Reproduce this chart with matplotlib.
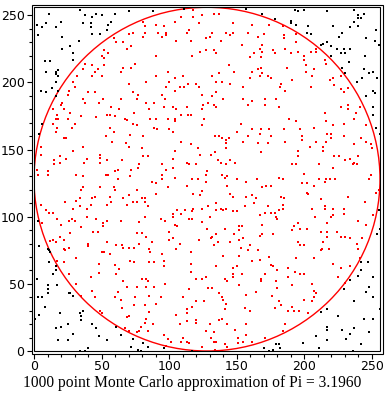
import matplotlib
matplotlib.use("Agg")
import matplotlib.pyplot as plt
from matplotlib.patches import Circle, Rectangle
from matplotlib.ticker import MultipleLocator

n_points = 1000
pi_estimate = "3.1960"
circle_center = (128, 128)
circle_radius = 128
axis_max = 256
x_ticks = [0, 50, 100, 150, 200, 250]
y_ticks = [0, 50, 100, 150, 200, 250]
caption = f"{n_points} point Monte Carlo approximation of Pi = {pi_estimate}"

# points that fell inside the circle (red)
inside_points = [
    (81,245),(82,242),(82,237),(81,234),(70,236),(73,237),(59,233),(61,230),(66,230),(69,225),
    (72,227),(52,224),(55,222),(50,220),(52,218),(38,214),(43,213),(52,213),(75,214),(66,211),
    (72,211),(36,210),(47,210),(45,208),(64,208),(32,205),(43,205),(50,205),(29,200),(30,197),
    (70,199),(83,200),(26,194),(40,193),(45,193),(25,191),(73,193),(77,191),(36,188),(38,185),
    (76,188),(64,188),(21,185),(51,188),(48,185),(83,185),(20,183),(57,182),(22,180),(27,177),
    (63,180),(85,180),(14,180),(17,176),(35,175),(54,176),(56,176),(74,177),(60,175),
    (118,254),(133,251),(137,251),(109,249),(118,249),(124,250),(104,245),(122,244),(147,244),(90,243),
    (96,242),(161,243),(174,243),(92,237),(113,237),(115,239),(98,237),(95,234),(98,235),(132,237),
    (142,237),(147,237),(158,237),(170,236),(166,234),(127,233),(130,234),(145,235),(105,231),(116,231),
    (138,231),(154,228),(169,228),(167,225),(169,223),(163,222),(127,224),(133,224),(135,222),(123,223),
    (117,220),(90,220),(160,219),(168,219),(144,213),(148,208),(161,208),(166,210),(168,211),(169,207),
    (173,205),(167,205),(137,207),(99,208),(110,205),(90,205),(132,205),(104,203),(100,200),(160,203),
    (135,200),(139,200),(145,199),(114,199),(120,199),(122,197),(111,197),(108,197),(98,197),(104,194),
    (155,197),(135,193),(124,191),(95,191),(132,190),(140,188),(155,188),(171,188),(97,188),(161,186),
    (129,185),(89,185),(125,183),(133,183),(135,182),(158,183),(171,183),(96,182),(103,182),(113,182),
    (105,180),(124,180),(109,176),(114,176),(116,176),
    (184,242),(185,235),(185,233),(194,236),(194,230),(177,224),(178,222),(186,225),(190,222),(195,223),
    (200,220),(200,217),(201,213),(205,223),(209,223),(209,225),(215,217),(216,214),(187,211),(207,210),
    (201,208),(206,205),(175,203),(191,202),(219,202),(221,203),(227,205),(183,199),(182,197),(205,197),
    (222,198),(186,194),(227,195),(229,193),(232,196),(179,188),(181,182),(227,182),(232,183),(232,180),
    (215,177),(241,182),(238,177),
    (16,173),(18,173),(25,173),(46,174),(67,173),(69,172),(73,169),(76,168),(86,173),(14,169),
    (17,166),(16,163),(30,169),(28,166),(56,166),(59,163),(71,161),(81,160),(53,160),(22,159),
    (24,159),(5,152),(29,149),(36,152),(58,156),(68,155),(70,152),(80,151),(81,145),(84,145),
    (49,146),(49,144),(54,142),(65,142),(39,143),(37,140),(24,143),(19,145),(19,140),(15,142),
    (15,139),(5,146),(2,135),(10,134),(10,131),(3,131),(31,131),(36,130),(49,140),(53,131),
    (55,131),(60,134),(62,135),(72,135),(77,136),(78,139),(71,130),(62,128),(87,126),(36,122),
    (35,120),(49,122),(59,122),(60,120),(76,120),(70,116),(66,114),(56,115),(57,111),(43,114),
    (45,115),(34,114),(31,112),(23,111),(80,114),(82,114),(76,111),(73,111),(82,111),(84,108),
    (69,109),(54,109),(42,109),(39,106),(34,108),(29,106),(5,109),(9,105),(11,103),(14,103),
    (17,98),(20,94),(28,98),(26,97),(30,97),(39,100),(46,98),(54,97),(64,97),(51,95),
    (51,93),(35,92),(47,89),(44,89),(27,88),(82,100),(78,96),(76,88),(80,88),(6,95),
    (90,173),(99,173),(104,173),(104,171),(126,173),(124,168),(89,166),(91,165),(100,165),(103,163),
    (153,169),(161,165),(168,165),(167,162),(174,165),(134,160),(137,160),(139,159),(144,159),(142,157),
    (150,163),(158,160),(142,155),(155,156),(109,156),(116,154),(121,151),(142,151),(166,155),(173,155),
    (104,149),(134,148),(131,146),(123,146),(168,148),(103,143),(136,142),(145,142),(149,140),(113,140),
    (115,139),(120,139),(138,140),(142,139),(95,139),(103,136),(98,135),(128,134),(95,131),(95,128),
    (104,129),(117,128),(121,128),(127,126),(127,131),(139,131),(143,130),(141,129),(150,128),(165,128),
    (90,125),(113,123),(143,123),(157,126),(169,122),(172,123),(99,122),(124,119),(118,117),(123,116),
    (145,117),(147,115),(90,117),(157,115),(161,116),(164,114),(163,110),(135,110),(129,108),(156,108),
    (173,108),(106,105),(112,105),(118,106),(117,104),(124,106),(135,105),(138,106),(140,105),(142,106),
    (147,104),(150,104),(171,103),(109,102),(103,102),(103,100),(130,100),(167,101),(94,98),(97,97),
    (115,98),(117,98),(124,96),(104,94),(106,93),(152,93),(154,93),(169,94),(128,91),(141,91),
    (152,90),(100,89),(135,87),(148,87),(169,87),
    (189,173),(194,171),(216,171),(229,169),(237,173),(246,168),(221,168),(185,165),(197,165),(207,166),
    (217,162),(220,162),(220,159),(229,160),(242,159),(175,160),(198,160),(198,157),(186,156),(209,156),
    (216,156),(246,156),(249,154),(250,151),(237,154),(204,152),(195,149),(214,152),(214,149),(195,145),
    (222,145),(226,145),(240,145),(234,143),(230,142),(221,136),(191,139),(194,139),(211,139),(236,139),
    (237,140),(239,139),(200,132),(184,128),(181,129),(211,128),(216,128),(219,128),(223,128),(215,126),
    (249,131),(248,128),(175,123),(198,125),(202,125),(207,123),(202,118),(203,117),(212,113),(232,115),
    (183,115),(185,114),(253,118),(255,120),(245,111),(184,109),(184,106),(181,105),(215,108),(215,106),
    (221,106),(229,106),(206,106),(175,103),(178,103),(179,100),(180,98),(229,102),(221,101),(220,100),
    (208,100),(240,97),(251,101),(217,95),(195,95),(192,93),(197,91),(191,90),(202,91),(212,89),
    (217,89),(224,89),(246,94),(177,87),
    (12,82),(14,83),(19,85),(22,83),(16,81),(22,76),(23,75),(26,77),(40,80),(40,78),
    (54,81),(61,79),(65,79),(66,77),(70,77),(74,77),(78,80),(83,85),(85,76),(50,74),
    (52,74),(56,72),(31,69),(17,67),(22,66),(48,65),(60,64),(63,61),(71,67),(74,66),
    (85,66),(26,57),(48,58),(61,57),(42,55),(80,54),(83,54),(84,52),(66,52),(76,48),
    (69,48),(83,48),(31,50),(43,45),(35,41),(45,40),(62,44),(60,40),(64,38),(75,40),
    (85,41),(74,34),(82,34),(65,32),(49,30),(50,28),(70,26),(69,25),(85,29),(83,24),
    (82,21),(79,18),(67,17),(70,15),(78,15),(76,14),(84,15),
    (87,81),(100,83),(103,84),(108,80),(122,83),(131,84),(132,85),(133,79),(136,81),(145,81),
    (152,83),(155,84),(167,86),(160,79),(153,77),(158,75),(166,75),(167,68),(174,70),(105,76),
    (86,74),(95,72),(96,67),(96,63),(89,66),(116,74),(116,65),(116,59),(140,71),(152,71),
    (161,67),(135,63),(147,62),(150,63),(120,54),(124,54),(127,55),(143,52),(141,54),(147,57),
    (147,55),(154,57),(171,57),(168,54),(168,52),(89,48),(97,50),(115,46),(129,47),(132,47),
    (137,43),(152,49),(157,42),(164,44),(110,40),(94,40),(139,40),(140,38),(117,33),(113,31),
    (120,37),(126,37),(142,35),(141,31),(90,35),(156,32),(160,30),(105,27),(113,28),(137,23),
    (139,24),(113,22),(120,23),(120,21),(108,20),(130,20),(143,20),(157,20),(88,20),(127,15),
    (133,14),(149,16),(157,12),(96,12),(99,9),(110,10),(101,7),(109,7),(113,7),(115,6),
    (131,10),(133,7),(135,7),(141,5),(143,3),(151,10),(151,6),(155,7),(161,7),(171,10),
    (124,3),(134,1),(98,4),
    (195,81),(197,79),(200,79),(214,81),(217,85),(227,85),(230,85),(234,84),(243,84),(239,80),
    (240,76),(213,76),(218,76),(212,75),(194,69),(207,69),(241,69),(221,65),(175,64),(177,63),
    (180,60),(227,62),(234,63),(188,62),(193,59),(188,55),(197,57),(200,57),(179,52),(180,47),
    (191,49),(206,50),(207,45),(209,43),(225,55),(230,51),(207,40),(176,41),(181,37),(200,38),
    (206,37),(178,32),(183,34),(191,33),(188,30),(192,30),(196,30),(203,28),(186,20),(184,15),
]

# points that fell outside the circle (black)
outside_points = [
    (34,254),(11,251),(38,250),(43,249),(46,251),(50,250),(60,251),(70,253),(88,253),(20,245),
    (36,244),(42,244),(9,244),(2,243),(6,241),(16,241),(55,243),(57,245),(42,241),(54,239),
    (43,236),(49,236),(3,235),(21,234),(33,231),(27,227),(21,225),(29,222),(29,217),(8,216),
    (12,216),(9,208),(16,208),(18,209),(16,206),(18,205),(16,200),(13,196),(5,194),(9,193),
    (18,194),(16,190),
    (111,255),(157,255),(169,251),
    (193,254),(195,253),(200,254),(217,253),(237,254),(244,251),(240,250),(240,248),(242,248),(178,247),
    (190,246),(190,244),(194,243),(203,242),(221,242),(234,241),(237,245),(240,242),(253,239),(228,237),
    (226,234),(202,237),(205,236),(246,233),(252,231),(255,228),(217,230),(212,228),(214,229),(220,227),
    (224,225),(229,225),(227,222),(230,222),(234,225),(220,220),(245,220),(233,215),(228,211),(230,207),
    (244,210),(251,208),(248,207),(254,203),(243,203),(239,200),(251,194),(252,192),(246,190),(251,182),
    (251,176),
    (6,169),(4,162),(3,97),
    (253,166),(256,162),(255,105),(256,91),(254,87),
    (4,78),(10,76),(11,75),(12,74),(11,66),(16,63),(16,60),(14,57),(2,54),(10,49),
    (10,46),(10,43),(17,49),(3,40),(6,40),(8,33),(4,27),(1,24),(19,28),(26,43),
    (27,43),(29,41),(34,28),(36,30),(35,26),(35,23),(43,20),(46,17),(20,18),(16,17),
    (25,20),(29,13),(18,8),(25,8),(48,11),(54,8),(61,18),(64,12),(73,9),(81,6),
    (84,3),(72,3),(77,1),(79,0),(34,0),(38,0),(40,2),
    (96,2),(117,0),(170,2),
    (242,66),(247,66),(242,60),(234,53),(240,56),(251,55),(229,46),(248,48),(246,44),(251,40),
    (237,37),(217,31),(212,29),(225,26),(244,24),(251,24),(256,31),(217,18),(217,16),(237,17),
    (228,16),(234,13),(231,9),(248,14),(209,11),(217,8),(199,6),(242,5),(181,5),(182,2),
    (179,5),(174,0),(177,1),(211,2),(236,0),
]

W, H = 388, 395
fig = plt.figure(figsize=(W / 100, H / 100), dpi=100)
px_left, px_right, px_bottom, px_top = 34, 380, 351, 7.3
ax = fig.add_axes([px_left / W, 1 - px_bottom / H,
                   (px_right - px_left) / W, (px_bottom - px_top) / H])
ax.set_xlim(0, axis_max)
ax.set_ylim(0, axis_max)

xi, yi = zip(*inside_points)
xo, yo = zip(*outside_points)
ax.add_patch(Circle(circle_center, circle_radius, fill=False,
                    edgecolor="#ff0000", linewidth=1.0, zorder=2))
ax.plot(xi, yi, linestyle="none", marker="s", markersize=1.55,
        markeredgewidth=0, color="#ff0000", clip_on=False, zorder=3)
ax.plot(xo, yo, linestyle="none", marker="s", markersize=1.55,
        markeredgewidth=0, color="black", clip_on=False, zorder=3)

# double frame: inner box + outer box carrying the ticks
gap = 2.5  # px
for s in ax.spines.values():
    s.set_position(("outward", gap * 0.72))
    s.set_visible(False)
ax.add_patch(Rectangle((0, 0), 1, 1, transform=ax.transAxes, fill=False,
                       edgecolor="black", linewidth=0.8, clip_on=False, zorder=4))
dx = gap / (px_right - px_left)
dy = gap / (px_bottom - px_top)
ax.add_patch(Rectangle((-dx, -dy), 1 + 2 * dx, 1 + 2 * dy, transform=ax.transAxes,
                       fill=False, edgecolor="black", linewidth=0.8,
                       clip_on=False, zorder=4))

ax.set_xticks(x_ticks)
ax.set_yticks(y_ticks)
ax.xaxis.set_minor_locator(MultipleLocator(10))
ax.yaxis.set_minor_locator(MultipleLocator(10))
ax.tick_params(which="both", direction="out", width=0.8, colors="black",
               top=False, right=False, labelsize=9.0, pad=1.2)
ax.tick_params(which="major", length=3.8)
ax.tick_params(which="minor", length=2.2)
for lab in ax.get_xticklabels() + ax.get_yticklabels():
    lab.set_family("DejaVu Sans")

fig.text(192 / W, 1 - 383 / H, caption, ha="center", va="center",
         family="Liberation Serif", fontsize=11.2)

fig.savefig("out.png", dpi=100)
